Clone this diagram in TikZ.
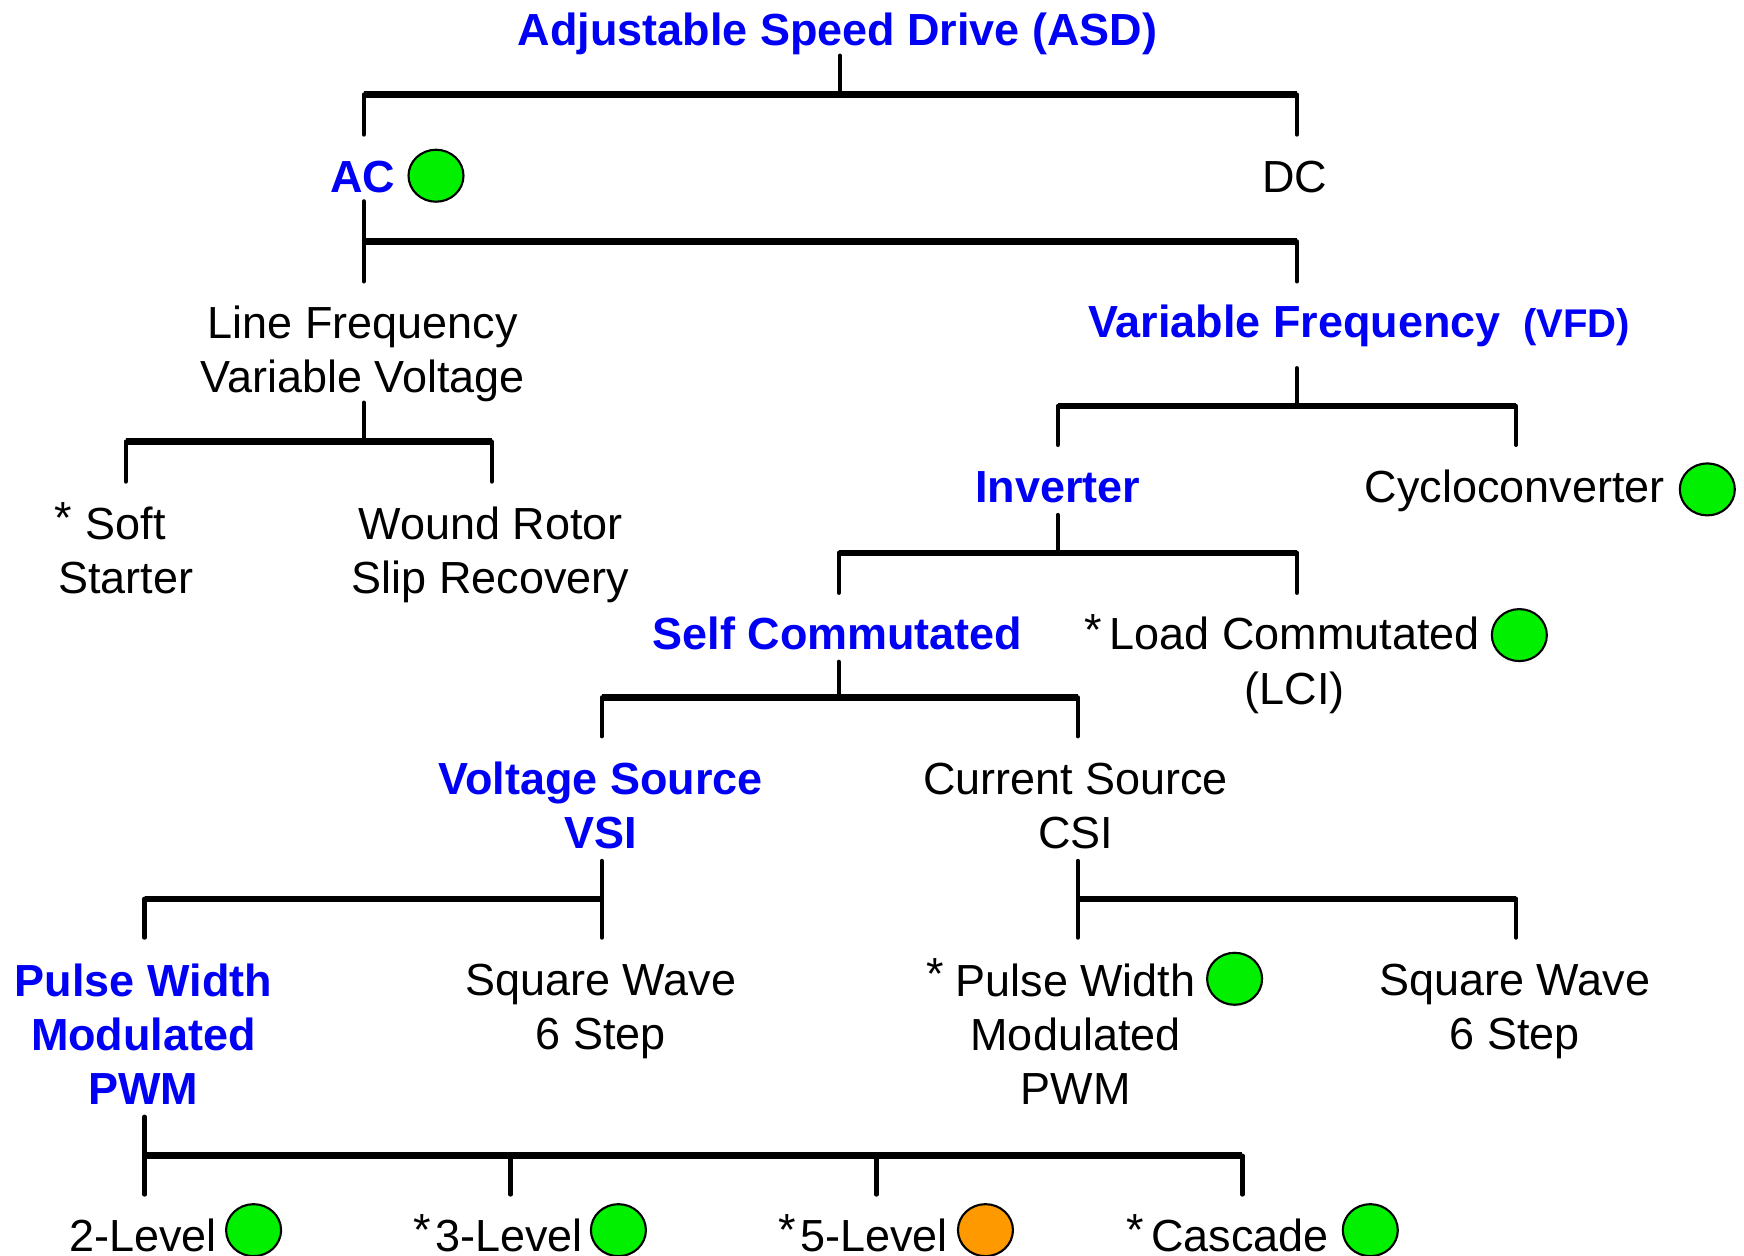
\documentclass[tikz,border=0pt]{standalone}
\usepackage{fontspec}
\setmainfont{Liberation Sans}
\usetikzlibrary{shapes.geometric}
\usetikzlibrary{positioning}

\definecolor{asdblue}{RGB}{0,0,245}
\definecolor{dotgreen}{RGB}{0,240,0}
\definecolor{dotorange}{RGB}{255,153,0}
\newcommand\lsize{\fontsize{12.8}{15.4}\selectfont}

\begin{document}
\begin{tikzpicture}[x=0.0111224cm, y=-0.0111224cm,
  txt/.style={font=\lsize, anchor=base, align=center, inner sep=1pt},
  hb/.style={txt, font=\lsize\bfseries, text=asdblue},
  mark star/.style={font=\lsize, anchor=base, inner sep=0pt},
  dot/.style={ellipse, draw, line width=0.6pt, fill=dotgreen, inner sep=0pt,
    minimum width=0.55cm, minimum height=0.52cm},
  stem/.style={line width=1.2pt, line cap=round},
  bar/.style={line width=1.8pt}]
\useasboundingbox (0,0) rectangle (1568,1129);

% labels (base = last line)
\node[hb] (asd) at (753,41) {Adjustable Speed Drive (ASD)};
\node[hb] (ac) at (326,173) {AC};
\node[txt] (dc) at (1164,173) {DC};
\node[txt] (lfvv) at (326,353) {Line Frequency\\Variable Voltage};
\node[hb] (vf) at (1164,303) {Variable Frequency};
\node[hb, font=\fontsize{11.4}{14}\selectfont\bfseries, anchor=base west] (vfd)
  at ([xshift=4pt]vf.base east) {(VFD)};
\node[txt] (soft) at (113,534) {Soft\\Starter};
\node[txt] (wound) at (441,534) {Wound Rotor\\Slip Recovery};
\node[hb] (inv) at (951,452) {Inverter};
\node[txt] (cyclo) at (1362,452) {Cycloconverter};
\node[hb] (selfc) at (753,584) {Self Commutated};
\node[txt] (lci) at (1164,633) {Load Commutated\\(LCI)};
\node[hb] (vsi) at (540,763) {Voltage Source\\VSI};
\node[txt] (csi) at (967,763) {Current Source\\CSI};
\node[hb] (pwmv) at (129,993) {Pulse Width\\Modulated\\PWM};
\node[txt] (sqv) at (540,944) {Square Wave\\6 Step};
\node[txt] (pwmc) at (967,993) {Pulse Width\\Modulated\\PWM};
\node[txt] (sqc) at (1362,944) {Square Wave\\6 Step};
\node[txt] (lv2) at (128.5,1125) {2-Level};
\node[txt] (lv3) at (457.5,1125) {3-Level};
\node[txt] (lv5) at (786,1125) {5-Level};
\node[txt] (casc) at (1115,1125) {Cascade};

% stars
\node[mark star] (s1) at (57,480) {*};
\node[mark star] (s2) at (983,580) {*};
\node[mark star] (s3) at (841,890) {*};
\node[mark star] (s4) at (380,1120) {*};
\node[mark star] (s5) at (708,1120) {*};
\node[mark star] (s6) at (1021,1120) {*};

% dots
\node[dot] (d1) at (392,158) {};
\node[dot] (d2) at (1535,440) {};
\node[dot] (d3) at (1366,571) {};
\node[dot] (d4) at (1110,880) {};
\node[dot] (d5) at (228,1106) {};
\node[dot] (d6) at (556,1106) {};
\node[dot, fill=dotorange] (d7) at (886,1106) {};
\node[dot] (d8) at (1232,1106) {};

% ASD -> AC, DC
\coordinate (asd-s) at (755,50);
\coordinate (asd-j) at (755,85);
\coordinate (ac-n) at (327,121);
\coordinate (dc-n) at (1166,121);
\draw[stem] (asd-s) -- (asd-j);
\draw[bar] (ac-n |- asd-j) -- (dc-n |- asd-j);
\draw[stem] (ac-n |- asd-j) -- (ac-n);
\draw[stem] (dc-n |- asd-j) -- (dc-n);

% AC -> line freq, variable freq
\coordinate (ac-s) at (327,181);
\coordinate (ac-j) at (327,217);
\coordinate (lfvv-n) at (327,253);
\coordinate (vf-n) at (1166,253);
\draw[stem] (ac-s) -- (lfvv-n);
\draw[bar] (ac-j) -- (vf-n |- ac-j);
\draw[stem] (vf-n |- ac-j) -- (vf-n);

% line freq -> soft, wound
\coordinate (lfvv-s) at (327,362);
\coordinate (lfvv-j) at (327,397);
\coordinate (soft-n) at (113,433);
\coordinate (wound-n) at (442,433);
\draw[stem] (lfvv-s) -- (lfvv-j);
\draw[bar] (soft-n |- lfvv-j) -- (wound-n |- lfvv-j);
\draw[stem] (soft-n |- lfvv-j) -- (soft-n);
\draw[stem] (wound-n |- lfvv-j) -- (wound-n);

% VFD -> inverter, cyclo
\coordinate (vf-s) at (1166,331);
\coordinate (vf-j) at (1166,365);
\coordinate (inv-n) at (951,400);
\coordinate (cyclo-n) at (1363,400);
\draw[stem] (vf-s) -- (vf-j);
\draw[bar] (inv-n |- vf-j) -- (cyclo-n |- vf-j);
\draw[stem] (inv-n |- vf-j) -- (inv-n);
\draw[stem] (cyclo-n |- vf-j) -- (cyclo-n);

% inverter -> self, load
\coordinate (inv-s) at (951,463);
\coordinate (inv-j) at (951,497);
\coordinate (selfc-n) at (754,533);
\coordinate (lci-n) at (1166,533);
\draw[stem] (inv-s) -- (inv-j);
\draw[bar] (selfc-n |- inv-j) -- (lci-n |- inv-j);
\draw[stem] (selfc-n |- inv-j) -- (selfc-n);
\draw[stem] (lci-n |- inv-j) -- (lci-n);

% self -> VSI, CSI
\coordinate (selfc-s) at (754,595);
\coordinate (selfc-j) at (754,627);
\coordinate (vsi-n) at (541,662);
\coordinate (csi-n) at (969,662);
\draw[stem] (selfc-s) -- (selfc-j);
\draw[bar] (vsi-n |- selfc-j) -- (csi-n |- selfc-j);
\draw[stem] (vsi-n |- selfc-j) -- (vsi-n);
\draw[stem] (csi-n |- selfc-j) -- (csi-n);

% VSI -> PWM, square wave
\coordinate (vsi-s) at (541,774);
\coordinate (vsi-j) at (541,808);
\coordinate (pwmv-n) at (130,843);
\coordinate (sqv-n) at (541,843);
\draw[stem] (vsi-s) -- (sqv-n);
\draw[bar] (pwmv-n |- vsi-j) -- (vsi-j);
\draw[stem] (pwmv-n |- vsi-j) -- (pwmv-n);

% CSI -> PWM, square wave
\coordinate (csi-s) at (969,774);
\coordinate (csi-j) at (969,808);
\coordinate (pwmc-n) at (969,843);
\coordinate (sqc-n) at (1363,843);
\draw[stem] (csi-s) -- (pwmc-n);
\draw[bar] (csi-j) -- (sqc-n |- csi-j);
\draw[stem] (sqc-n |- csi-j) -- (sqc-n);

% PWM -> levels
\coordinate (pwmv-s) at (130,1004);
\coordinate (pwmv-j) at (130,1039);
\coordinate (lv2-n) at (130,1074);
\coordinate (lv3-n) at (459,1074);
\coordinate (lv5-n) at (788,1074);
\coordinate (casc-n) at (1117,1074);
\draw[stem] (pwmv-s) -- (lv2-n);
\draw[bar] (pwmv-j) -- (casc-n |- pwmv-j);
\draw[stem] (lv3-n |- pwmv-j) -- (lv3-n);
\draw[stem] (lv5-n |- pwmv-j) -- (lv5-n);
\draw[stem] (casc-n |- pwmv-j) -- (casc-n);
\end{tikzpicture}
\end{document}
